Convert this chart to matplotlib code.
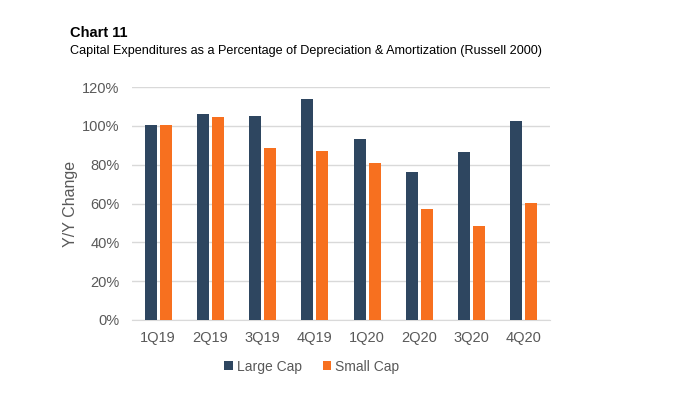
import matplotlib.pyplot as plt
import numpy as np

plt.rcParams['font.family'] = ['Liberation Sans', 'DejaVu Sans']

quarters = ['1Q19', '2Q19', '3Q19', '4Q19', '1Q20', '2Q20', '3Q20', '4Q20']
large_cap = [100.5, 106.0, 105.2, 113.8, 93.5, 76.2, 86.4, 102.8]
small_cap = [100.5, 104.4, 88.9, 87.3, 80.8, 57.4, 48.6, 60.5]

navy = '#2E4660'
orange = '#F7701F'
grey = '#595959'

fig = plt.figure(figsize=(6.89, 3.98), dpi=100)
ax = fig.add_axes([0.1916, 0.196, 0.6066, 0.585])

x = np.arange(len(quarters))
w = 0.23
ax.bar(x - w / 2 - 0.03, large_cap, width=w, color=navy, label='Large Cap', zorder=3)
ax.bar(x + w / 2 + 0.03, small_cap, width=w, color=orange, label='Small Cap', zorder=3)

ax.set_xlim(-0.5, len(quarters) - 0.5)
ax.set_ylim(0, 120)
ax.set_yticks(range(0, 121, 20))
ax.set_yticklabels([f'{v}%' for v in range(0, 121, 20)])
ax.set_xticks(x)
ax.set_xticklabels(quarters)
ax.grid(axis='y', color='#D9D9D9', linewidth=1, zorder=0)
for s in ['top', 'right', 'left']:
    ax.spines[s].set_visible(False)
ax.spines['bottom'].set_color('#D9D9D9')
ax.tick_params(length=0, labelsize=10.5, colors=grey, pad=8)
ax.tick_params(axis='y', pad=9)
ax.set_ylabel('Y/Y Change', fontsize=11.5, color=grey, labelpad=3)

fig.text(0.102, 0.918, 'Chart 11', fontsize=10.5, fontweight='bold', va='center')
fig.text(0.102, 0.871, 'Capital Expenditures as a Percentage of Depreciation & Amortization (Russell 2000)',
         fontsize=9.1, va='center')

ax.legend(loc='center', bbox_to_anchor=(0.43, -0.2), ncol=2, frameon=False,
          fontsize=10, labelcolor=grey, handlelength=0.6, handleheight=0.6,
          handletextpad=0.3, columnspacing=1.5)

fig.savefig('out.png', dpi=100)
